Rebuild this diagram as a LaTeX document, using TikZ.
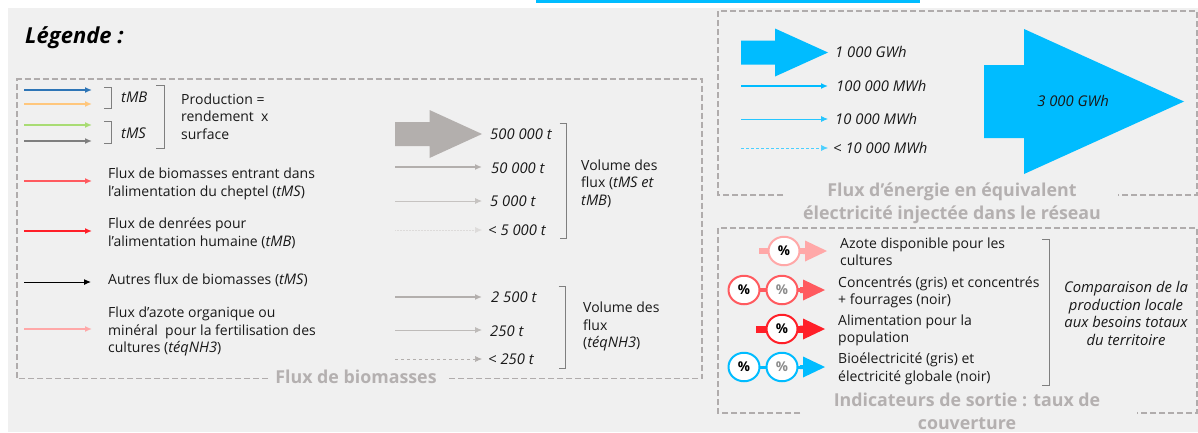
\documentclass[tikz,border=0pt]{standalone}
\usepackage{fontspec}
\setmainfont{Open Sans}
\usetikzlibrary{arrows.meta,shapes.geometric}
\definecolor{bgc}{HTML}{F0F0F0}
\definecolor{dashc}{HTML}{B0ACAC}
\definecolor{titlec}{HTML}{B4B0B0}
\definecolor{cyanc}{HTML}{00BCFF}
\definecolor{greyc}{HTML}{B3AFAD}
\definecolor{pinkc}{HTML}{FFA8A8}
\definecolor{corc}{HTML}{FF5A5F}
\definecolor{redc}{HTML}{FF1F28}
\definecolor{brc}{HTML}{7F7F7F}
\definecolor{bluec}{HTML}{2E75B6}
\definecolor{orangec}{HTML}{FFC77D}
\definecolor{greenc}{HTML}{A9DC74}
\definecolor{darkg}{HTML}{7F7F7F}
\newcommand{\ita}[1]{{\fontsize{14.6}{17.4}\selectfont\itshape #1}}
\tikzset{
 x=1pt,y=-1pt,
 txt/.style={anchor=west,inner sep=0pt,font=\fontsize{14}{16}\selectfont,text=black!90},
 itx/.style={txt,font=\fontsize{14.8}{16}\selectfont\itshape},
 mltxt/.style={anchor=west,inner sep=0pt,align=left,font=\fontsize{14}{17.5}\selectfont,text=black!90},
 mid/.style={anchor=center,inner sep=0pt,align=center,font=\fontsize{14.8}{17.4}\selectfont\itshape,text=black!90},
 ttl/.style={anchor=center,inner sep=0pt,align=center,font=\fontsize{17.8}{23}\selectfont\bfseries,text=titlec},
 dbox/.style={draw=dashc,line width=1.8pt,dash pattern=on 6pt off 3pt},
 brk/.style={draw=brc,line width=0.8pt},
 flow/.style={-{Latex[length=7pt,width=6pt]}},
 pct/.style={ellipse,draw,fill=white,line width=2pt,minimum width=31pt,minimum height=28.5pt,inner sep=0pt,font=\fontsize{13.5}{15}\selectfont\bfseries,text=black},
 gpct/.style={pct,text=black!45},
}
% name, x1, x2, y, options
\newcommand{\flowline}[5]{%
 \coordinate (#1s) at (#2,#4);\coordinate (#1e) at (#3,#4);
 \draw[flow,#5] (#1s) -- (#1e);}
% xl, xneck, xtip, yc, shaft half, head half, colour
\newcommand{\bigarrow}[7]{%
 \fill[#7] (#1,#4-#5) -- (#2,#4-#5) -- (#2,#4-#6) -- (#3,#4) -- (#2,#4+#6) -- (#2,#4+#5) -- (#1,#4+#5) -- cycle;}
\newcommand{\rbrk}[3]{\draw[brk] (#1,#2) -- ++(7,0) |- (#1,#3);}
\begin{document}
\begin{tikzpicture}
\useasboundingbox (0,0) rectangle (1198,432);
\fill[white] (0,0) rectangle (1198,432);
\fill[bgc] (8,8) rectangle (1198,432);
\fill[cyanc] (536,0) rectangle (920,2.5);

\node[anchor=west,inner sep=0pt,font=\fontsize{22}{24}\selectfont\bfseries\itshape,text=black] (leg) at (25,38) {Légende :};

% left box
\draw[dbox] (268,378.5) -- (17,378.5) -- (17,79) -- (702,79) -- (702,378.5) -- (447,378.5);
\node[ttl] (t1) at (356,377) {Flux de biomasses};

\flowline{a1}{24}{92}{90}{draw=bluec,line width=1.6pt}
\flowline{a2}{24}{92}{104}{draw=orangec,line width=1.6pt}
\flowline{a3}{24}{92}{125}{draw=greenc,line width=1.6pt}
\flowline{a4}{24}{92}{141}{draw=darkg,line width=1.6pt}
\flowline{a5}{24}{92}{181}{draw=corc,line width=1.8pt}
\flowline{a6}{24}{92}{231}{draw=redc,line width=1.8pt}
\flowline{a7}{24}{91}{282}{draw=black,line width=1pt}
\flowline{a8}{24}{92}{329}{draw=pinkc,line width=1.8pt}

\rbrk{104}{87}{108}
\rbrk{104}{121}{143}
\draw[brk] (156,85) -- ++(8,0) |- (156,148);
\node[itx] (tmb) at (121,97) {tMB};
\node[itx] (tms) at (121,133) {tMS};
\node[mltxt] (prod) at (181,116.5) {Production =\\rendement\ \ x\\surface};
\node[mltxt] (l1) at (108,184) {Flux de biomasses entrant dans\\l’alimentation du cheptel (\ita{tMS})};
\node[mltxt] (l2) at (108,233) {Flux de denrées pour\\l’alimentation humaine (\ita{tMB})};
\node[txt] (l3) at (108,280) {Autres flux de biomasses (\ita{tMS})};
\node[mltxt] (l4) at (108,331.5) {Flux d’azote organique ou\\minéral\ \ pour la fertilisation des\\cultures (\ita{téqNH3})};

% volumes
\bigarrow{395}{429.5}{482}{134}{12}{24}{greyc}
\flowline{b2}{395}{482}{167}{draw=greyc,line width=1.8pt}
\flowline{b3}{395}{482}{201}{draw=greyc!75,line width=0.9pt}
\flowline{b4}{395}{482}{230}{draw=greyc!45,line width=0.5pt,densely dotted}
\flowline{b5}{395}{482}{297}{draw=greyc,line width=1.6pt}
\flowline{b6}{395}{482}{330}{draw=greyc!85,line width=0.9pt}
\flowline{b7}{395}{482}{359}{draw=greyc,line width=0.6pt,dashed}
\node[itx] (v1) at (490,134) {500 000 t};
\node[itx] (v2) at (491,168) {50 000 t};
\node[itx] (v3) at (490,201) {5 000 t};
\node[itx] (v4) at (488,230) {< 5 000 t};
\node[itx] (v5) at (491,297) {2 500 t};
\node[itx] (v6) at (490,331) {250 t};
\node[itx] (v7) at (488,359) {< 250 t};
\rbrk{559.5}{123}{238}
\rbrk{558.5}{286}{368}
\node[mltxt] (vol1) at (581,183.5) {Volume des\\flux (\ita{tMS et}\\\ita{tMB})};
\node[mltxt] (vol2) at (583,326.5) {Volume des\\flux\\(\ita{téqNH3})};

% energy box
\draw[dbox] (783,195) -- (718,195) -- (718,11) -- (1197,11) -- (1197,195) -- (1118,195);
\node[ttl] (t2) at (952,203.5) {Flux d’énergie en équivalent\\électricité injectée dans le réseau};
\bigarrow{741}{775}{828}{52.5}{12}{24}{cyanc}
\flowline{c2}{741}{828}{86}{draw=cyanc,line width=1.5pt}
\flowline{c3}{741}{828}{119}{draw=cyanc!85,line width=0.8pt}
\flowline{c4}{741}{828}{148}{draw=cyanc!70,line width=0.5pt,densely dashed}
\node[itx] (e1) at (835,52) {1 000 GWh};
\node[itx] (e2) at (836,86) {100 000 MWh};
\node[itx] (e3) at (835,119) {10 000 MWh};
\node[itx] (e4) at (833,148) {< 10 000 MWh};
\bigarrow{984}{1024}{1184}{101.5}{36.5}{72.5}{cyanc}
\node[itx,anchor=center] (e5) at (1073,101) {3 000 GWh};

% indicators box
\draw[dbox] (800,413) -- (718,413) -- (718,228) -- (1197,228) -- (1197,413) -- (1137,413);
\node[ttl] (t3) at (967,411.5) {Indicateurs de sortie : taux de\\couverture};

\fill[pinkc] (759,248) rectangle (806,254);
\bigarrow{803}{805}{827}{251}{3}{10.5}{pinkc}
\node[pct,draw=pinkc] (p1) at (784,251) {\%};

\draw[corc,line width=4pt] (744,290) -- (805,290);
\bigarrow{800}{803}{825}{290}{3}{10.5}{corc}
\node[pct,draw=corc] (p2a) at (744,290) {\%};
\node[gpct,draw=corc] (p2b) at (782,290) {\%};

\fill[redc] (756,325.5) rectangle (805,332.5);
\bigarrow{800}{803}{825}{329}{3.5}{10.5}{redc}
\node[pct,draw=redc] (p3) at (782,329) {\%};

\draw[cyanc,line width=3pt] (744,367) -- (805,367);
\bigarrow{800}{803}{825}{367}{2}{10.5}{cyanc}
\node[pct,draw=cyanc] (p4a) at (744,367) {\%};
\node[gpct,draw=cyanc] (p4b) at (782,367) {\%};

\node[mltxt] (i1) at (840,251.5) {Azote disponible pour les\\cultures};
\node[mltxt] (i2) at (838,292.5) {Concentrés (gris) et concentrés\\+ fourrages (noir)};
\node[mltxt] (i3) at (838,330.5) {Alimentation pour la\\population};
\node[mltxt] (i4) at (838,369) {Bioélectricité (gris) et\\électricité globale (noir)};
\rbrk{1042}{239}{385}
\node[mid] (cmp) at (1126,313.5) {Comparaison de la\\production locale\\aux besoins totaux\\du territoire};
\end{tikzpicture}
\end{document}
